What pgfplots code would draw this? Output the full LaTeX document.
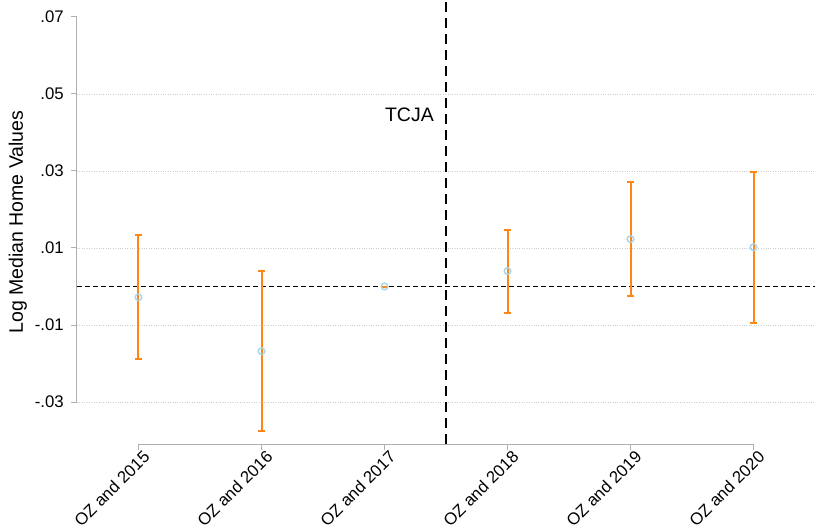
\documentclass[border=0pt]{standalone}
\usepackage{fontspec}
\setmainfont{Liberation Sans}
\usepackage{pgfplots}
\pgfplotsset{compat=1.18}
\definecolor{barorange}{RGB}{255,133,20}
\definecolor{mkblue}{RGB}{165,212,232}
\definecolor{axgray}{RGB}{175,175,175}
\definecolor{gridgray}{RGB}{205,205,205}
\newcommand{\tickfont}{\fontsize{16.8bp}{19bp}\selectfont}
\newcommand{\labfont}{\fontsize{19.5bp}{23bp}\selectfont}
\begin{document}
\begin{tikzpicture}[x=1bp,y=1bp]
\path[use as bounding box] (-77bp,-83bp) rectangle (740bp,444bp);
\begin{axis}[
  at={(0,0)}, anchor=south west,
  scale only axis, width=738bp, height=444bp,
  xmin=-0.5, xmax=5.5, ymin=-0.0409, ymax=0.0744,
  clip=false,
  axis line style={draw=none},
  tick align=outside,
  major tick length=6bp,
  tick style={draw=axgray, line width=1bp},
  xtick pos=bottom, ytick pos=left,
  xtick={0,1,2,3,4,5},
  xticklabels={OZ and 2015,OZ and 2016,OZ and 2017,OZ and 2018,OZ and 2019,OZ and 2020},
  ytick={-0.03,-0.01,0.01,0.03,0.05},
  yticklabels={-.03,-.01,.01,.03,.05},
  extra y ticks={0.07}, extra y tick labels={.07},
  extra y tick style={grid=none},
  ymajorgrids, grid style={gridgray, dotted, line width=0.9bp},
  ticklabel style={font=\tickfont},
  yticklabel style={anchor=east, inner sep=0pt, xshift=-7bp},
  xticklabel style={rotate=45, anchor=north east, inner sep=0pt, yshift=-2bp, xshift=3bp},
  ylabel={Log Median Home Values},
  every axis y label/.style={at={(axis description cs:-0.080,0.5)}, rotate=90, anchor=center, font=\labfont},
]
% axis lines
\draw[axgray, line width=1bp] (axis cs:-0.5,-0.03) -- (axis cs:-0.5,0.07);
\draw[axgray, line width=1bp] (axis cs:0,-0.0409) -- (axis cs:5,-0.0409);
% reference lines
\addplot[black, line width=1bp, dash pattern=on 5bp off 3bp, forget plot] coordinates {(-0.5,0) (5.5,0)};
\addplot[black, line width=1.1bp, dash pattern=on 10bp off 6bp, forget plot] coordinates {(2.5,-0.0409) (2.5,0.0744)};
% confidence intervals
\addplot[draw=none, mark=none, forget plot,
  error bars/.cd, y dir=both, y explicit,
  error bar style={draw=barorange, solid, line width=2bp},
  error mark options={rotate=90, mark size=3.5bp, line width=2bp, draw=barorange}]
coordinates {
 (0,-0.0028) += (0,0.0162) -= (0,0.0161)
 (1,-0.0168) += (0,0.0208) -= (0,0.0207)
 (2,0) += (0,0) -= (0,0)
 (3,0.0040) += (0,0.0107) -= (0,0.0108)
 (4,0.0123) += (0,0.0148) -= (0,0.0148)
 (5,0.0102) += (0,0.0195) -= (0,0.0196)
};
% point estimates
\addplot[only marks, mark=o, mark size=3.3bp, mark options={draw=mkblue, line width=1.4bp}, forget plot]
coordinates {(0,-0.0028) (1,-0.0168) (2,0) (3,0.0040) (4,0.0123) (5,0.0102)};
\node[anchor=east, font=\labfont, inner sep=0pt] at (axis cs:2.5,0.0446) [xshift=-12bp] {TCJA};
\end{axis}
\end{tikzpicture}
\end{document}
